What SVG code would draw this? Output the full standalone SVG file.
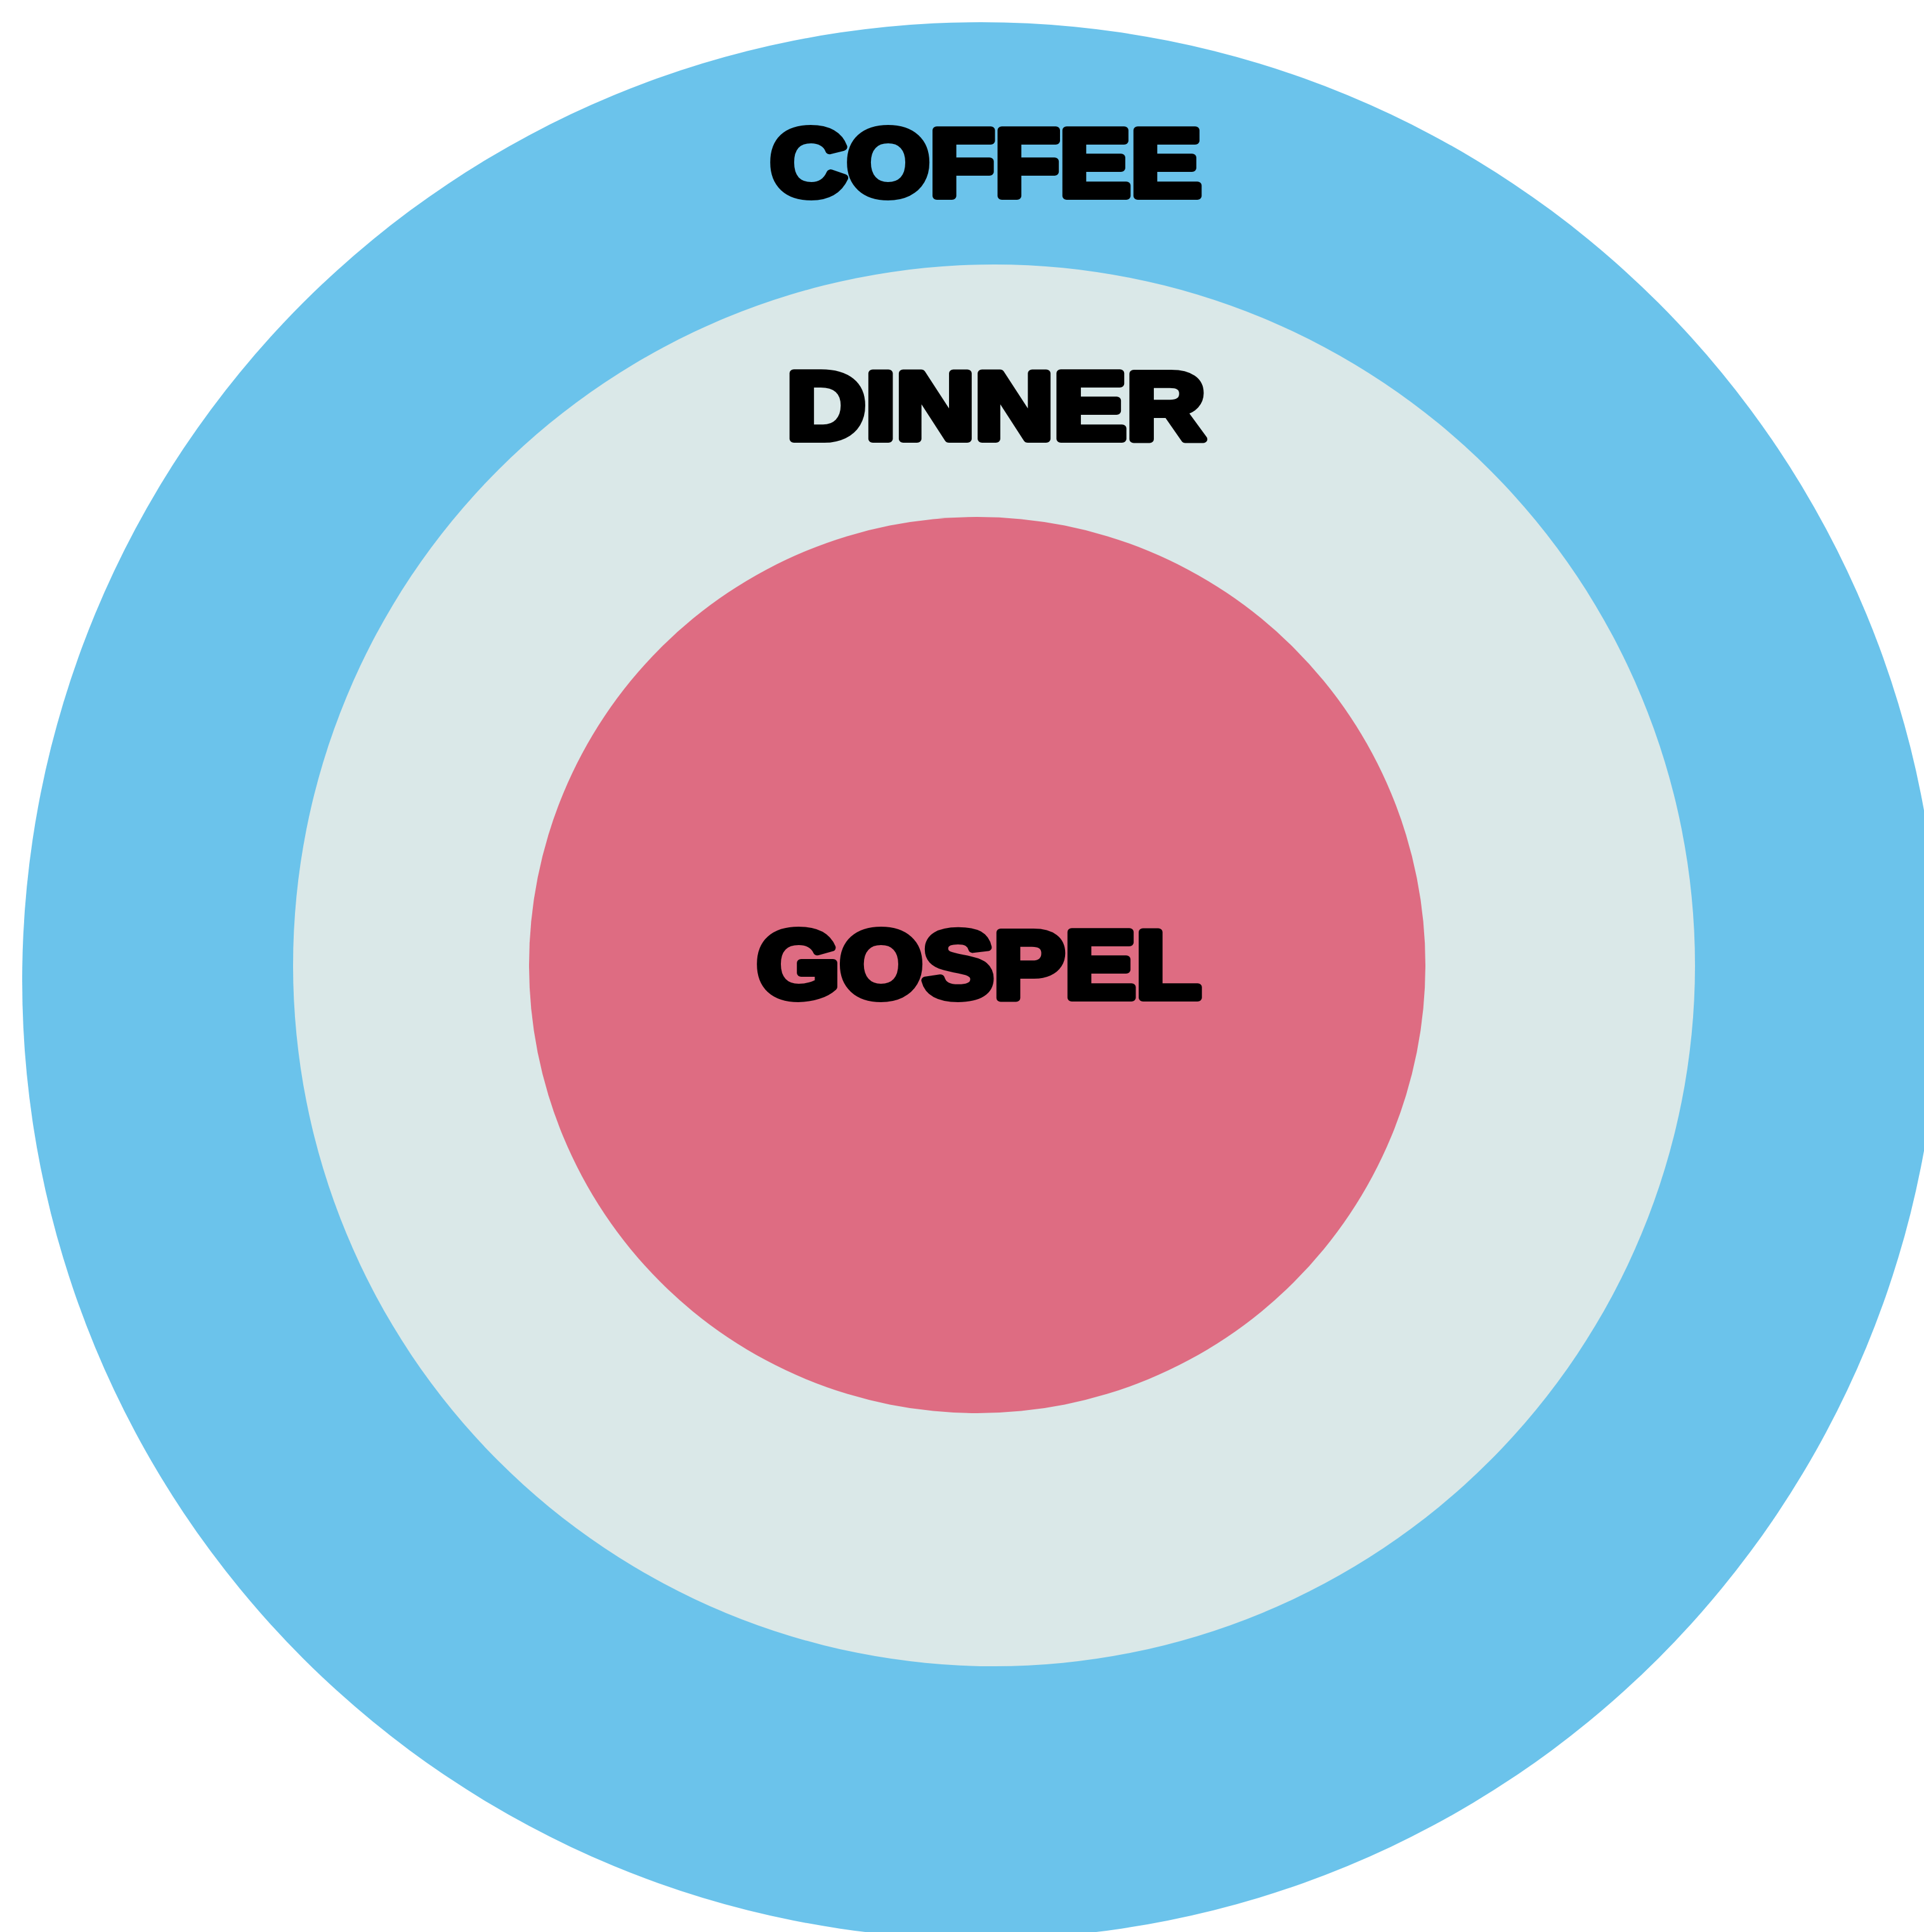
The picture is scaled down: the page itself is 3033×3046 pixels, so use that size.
<svg xmlns="http://www.w3.org/2000/svg" width="3033" height="3046" viewBox="0 0 3033 3046">
<style>
.lbl{font-family:"Liberation Sans",Arial,sans-serif;font-weight:bold;font-size:150px;fill:#000;stroke:#000;stroke-width:12;stroke-linejoin:round}
</style>
<rect width="3033" height="3046" fill="#fff"/>
<g id="coffee">
<circle cx="1546" cy="1546" r="1511" fill="#6BC3EB"/>
<text class="lbl" x="1214" y="309" textLength="680" lengthAdjust="spacingAndGlyphs">COFFEE</text>
</g>
<g id="dinner">
<circle cx="1567" cy="1522" r="1105" fill="#DAE8E8"/>
<text class="lbl" x="1240" y="692" textLength="660" lengthAdjust="spacingAndGlyphs">DINNER</text>
</g>
<g id="gospel">
<circle cx="1540.5" cy="1521.5" r="706.5" fill="#DE6C82"/>
<text class="lbl" x="1193" y="1573" textLength="700" lengthAdjust="spacingAndGlyphs">GOSPEL</text>
</g>
<g id="connectors"/>
</svg>
